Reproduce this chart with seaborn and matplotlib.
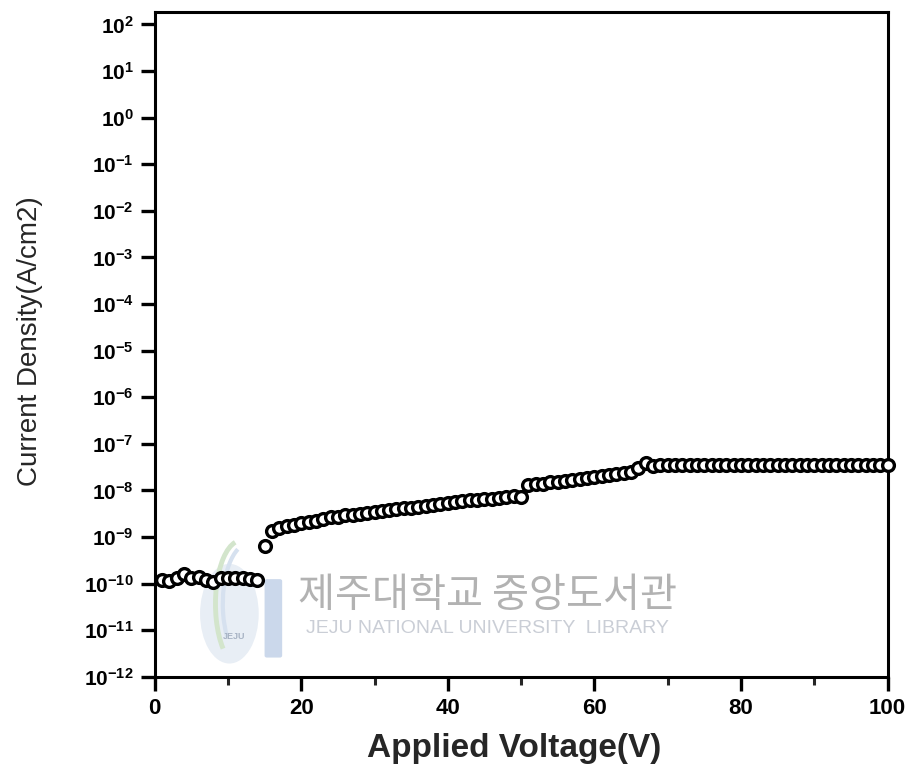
import numpy as np
import pandas as pd
import matplotlib
matplotlib.use("Agg")
import matplotlib.pyplot as plt
import matplotlib.patches as mpatches
import seaborn as sns
from matplotlib.ticker import FixedLocator, FuncFormatter, MultipleLocator

# ---------------- data ----------------
voltage = list(range(1, 101))  # Applied Voltage (V), 1 V steps
current_density = [
    # 1-14 V
    1.20e-10, 1.15e-10, 1.30e-10, 1.60e-10, 1.35e-10, 1.40e-10, 1.20e-10,
    1.10e-10, 1.30e-10, 1.35e-10, 1.30e-10, 1.30e-10, 1.28e-10, 1.20e-10,
    # 15 V
    6.5e-10,
    # 16-50 V
    1.35e-9, 1.55e-9, 1.70e-9, 1.85e-9, 2.00e-9, 2.10e-9, 2.25e-9, 2.45e-9,
    2.70e-9, 2.75e-9, 2.90e-9, 3.00e-9, 3.15e-9, 3.30e-9, 3.45e-9, 3.60e-9,
    3.75e-9, 3.95e-9, 4.10e-9, 4.30e-9, 4.50e-9, 4.70e-9, 4.90e-9, 5.20e-9,
    5.50e-9, 5.70e-9, 5.90e-9, 6.10e-9, 6.30e-9, 6.50e-9, 6.70e-9, 7.00e-9,
    7.30e-9, 7.60e-9, 7.40e-9,
    # 51-66 V
    1.30e-8, 1.35e-8, 1.40e-8, 1.48e-8, 1.55e-8, 1.62e-8, 1.70e-8, 1.78e-8,
    1.86e-8, 1.95e-8, 2.05e-8, 2.15e-8, 2.25e-8, 2.35e-8, 2.50e-8, 3.00e-8,
    # 67-68 V
    3.8e-8, 3.3e-8,
    # 69-100 V
    3.50e-8, 3.52e-8, 3.50e-8, 3.48e-8, 3.50e-8, 3.51e-8, 3.50e-8, 3.49e-8,
    3.50e-8, 3.52e-8, 3.50e-8, 3.50e-8, 3.48e-8, 3.50e-8, 3.51e-8, 3.50e-8,
    3.50e-8, 3.49e-8, 3.50e-8, 3.52e-8, 3.50e-8, 3.50e-8, 3.50e-8, 3.49e-8,
    3.50e-8, 3.51e-8, 3.50e-8, 3.50e-8, 3.48e-8, 3.50e-8, 3.50e-8, 3.52e-8,
]
x_ticks = [0, 20, 40, 60, 80, 100]
y_exponents = list(range(-12, 3))

x_label = "Applied Voltage(V)"
y_label = "Current Density(A/cm2)"
watermark_ko = "제주대학교 중앙도서관"
watermark_en = "JEJU NATIONAL UNIVERSITY  LIBRARY"
watermark_logo = "JEJU"

df = pd.DataFrame({"V": voltage, "J": current_density})

# ---------------- style ----------------
sns.set_theme(style="ticks")
plt.rcParams["font.family"] = ["Liberation Sans", "DejaVu Sans"]
plt.rcParams["mathtext.fontset"] = "custom"
plt.rcParams["mathtext.rm"] = "Liberation Sans"
plt.rcParams["mathtext.bf"] = "Liberation Sans:bold"
plt.rcParams["mathtext.default"] = "bf"

fig = plt.figure(figsize=(9.15, 7.7), dpi=100)
ax = fig.add_axes([0.169, 0.121, 0.801, 0.863])

# ---- faint library watermark (beneath the data) ----
ax.add_patch(mpatches.Ellipse((0.102, 0.095), 0.080, 0.150, transform=ax.transAxes,
             facecolor="#e8eef5", edgecolor="none", zorder=0))
ax.add_patch(mpatches.Arc((0.118, 0.110), 0.070, 0.190, theta1=95, theta2=250,
             transform=ax.transAxes, edgecolor="#d3e5cc", lw=3.5, zorder=0))
ax.add_patch(mpatches.Arc((0.128, 0.110), 0.070, 0.180, theta1=100, theta2=240,
             transform=ax.transAxes, edgecolor="#d6e1ef", lw=3.0, zorder=0))
ax.add_patch(mpatches.FancyBboxPatch((0.153, 0.032), 0.018, 0.112,
             boxstyle="round,pad=0.003", transform=ax.transAxes,
             facecolor="#cbd8eb", edgecolor="none", zorder=0))
ax.text(0.108, 0.060, watermark_logo, transform=ax.transAxes, fontsize=6.5,
        color="#a7b3c4", ha="center", va="center", fontweight="bold", zorder=0)
ax.text(0.454, 0.123, watermark_ko, transform=ax.transAxes, fontsize=29,
        color="#b2b2b2", ha="center", va="center",
        family=["Noto Sans CJK KR", "DejaVu Sans"], zorder=0)
ax.text(0.454, 0.072, watermark_en, transform=ax.transAxes, fontsize=14,
        color="#caced6", ha="center", va="center", zorder=0)

sns.scatterplot(data=df, x="V", y="J", ax=ax, marker="o", s=72,
                facecolor="white", edgecolor="black", linewidth=2.4,
                legend=False, zorder=3, clip_on=False)

ax.set_yscale("log")
ax.set_xlim(0, 100)
ax.set_ylim(1e-12, 10 ** 2.26)

ax.xaxis.set_major_locator(FixedLocator(x_ticks))
ax.xaxis.set_minor_locator(MultipleLocator(10))
ax.yaxis.set_major_locator(FixedLocator([10.0 ** e for e in y_exponents]))
ax.yaxis.set_minor_locator(FixedLocator([]))
ax.xaxis.set_major_formatter(FuncFormatter(lambda v, p: f"{int(v)}"))
ax.yaxis.set_major_formatter(
    FuncFormatter(lambda v, p: r"$\mathbf{10^{%d}}$" % int(round(np.log10(v)))))

for s in ax.spines.values():
    s.set_linewidth(2.2)
    s.set_color("black")
ax.tick_params(axis="both", which="major", direction="out", length=10, width=2.4,
               colors="black", pad=5)
ax.tick_params(axis="x", which="major", labelsize=16)
ax.tick_params(axis="y", which="major", labelsize=15)
ax.tick_params(axis="x", which="minor", direction="out", length=6, width=2.2)
ax.tick_params(top=False, right=False)
for lab in ax.get_xticklabels() + ax.get_yticklabels():
    lab.set_fontweight("bold")

ax.set_xlabel(x_label, fontsize=24, fontweight="bold", labelpad=12)
ax.xaxis.set_label_coords(0.49, -0.085)
ax.set_ylabel(y_label, fontsize=20)
ax.yaxis.set_label_coords(-0.152, 0.505)

fig.savefig("out.png", dpi=100)
